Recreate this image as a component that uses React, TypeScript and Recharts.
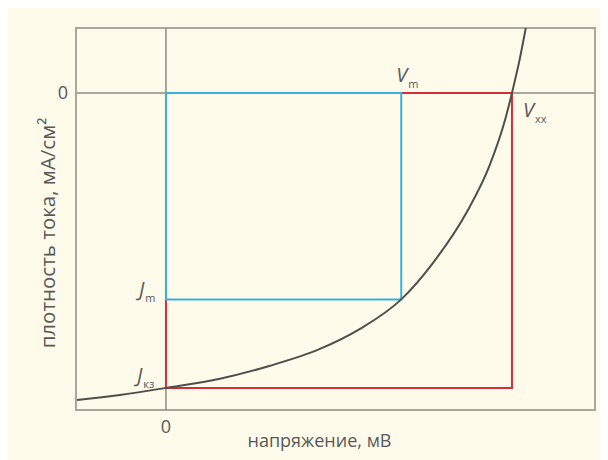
import {
  Label,
  Line,
  LineChart,
  ReferenceArea,
  ReferenceDot,
  ReferenceLine,
  XAxis,
  YAxis,
} from 'recharts'

// I–V curve of the cell (voltage normalised to Vxx = 100, current to Jкз = -100)
const CURVE_V = [-25.7, -13.3, 0, 15.6, 30.1, 44.5, 56.1, 68, 77.2, 87.0, 93.6, 98.0, 100, 102.2, 104.0]
const CURVE_J = [-104.1, -102.4, -100, -96.9, -92.5, -86.8, -80.0, -70, -57.6, -40.3, -24.4, -9.2, 0, 11.2, 22.0]

// characteristic points
const V_M = 68
const J_M = -70
const V_OC = 100
const J_SC = -100

const X_DOMAIN: [number, number] = [-26, 124]
const Y_DOMAIN: [number, number] = [-107.5, 22]
const X_TICKS = [0]
const Y_TICKS = [0]

const curve = CURVE_V.map((v, i) => ({ v, j: CURVE_J[i] }))

// max power rectangle
const powerRect = [
  { v: 0, j: 0 },
  { v: V_M, j: 0 },
  { v: V_M, j: J_M },
  { v: 0, j: J_M },
  { v: 0, j: 0 },
]

// Vxx × Jкз rectangle (the part not covered by the blue one)
const idealRect = [
  { v: V_M, j: 0 },
  { v: V_OC, j: 0 },
  { v: V_OC, j: J_SC },
  { v: 0, j: J_SC },
  { v: 0, j: J_M },
]

const TEXT = '#585858'
const FONT = '"Open Sans", sans-serif'

function Marker({ cx, cy, dx, dy, main, sub }: any) {
  return (
    <text x={cx + dx} y={cy + dy} fill={TEXT} fontFamily={FONT}>
      <tspan fontSize={20} fontStyle="italic">{main}</tspan>
      <tspan fontSize={11} dx={1} dy={6}>{sub}</tspan>
    </text>
  )
}

function XTitle({ viewBox }: any) {
  const x = viewBox.x + viewBox.width / 2 - 16
  const y = viewBox.y + 37
  return (
    <text x={x} y={y} textAnchor="middle" fill={TEXT} fontFamily={FONT} fontSize={18}>
      напряжение, мВ
    </text>
  )
}

function YTitle({ viewBox }: any) {
  const x = viewBox.x + 39
  const y = viewBox.y + viewBox.height / 2 + 14
  return (
    <text
      x={x}
      y={y}
      transform={`rotate(-90 ${x} ${y})`}
      textAnchor="middle"
      dominantBaseline="central"
      fill={TEXT}
      fontFamily={FONT}
      fontSize={20.5}
    >
      плотность тока, мА/см²
    </text>
  )
}

export default function App() {
  return (
    <div style={{ width: 600, height: 452, background: '#fefbea' }}>
      <LineChart width={600} height={452} margin={{ top: 20, right: 13, left: 0, bottom: 0 }}>
        <XAxis
          type="number"
          dataKey="v"
          domain={X_DOMAIN}
          ticks={X_TICKS}
          allowDataOverflow
          axisLine={false}
          tickLine={false}
          tickMargin={4}
          height={50}
          tick={{ fontSize: 18, fill: TEXT, fontFamily: FONT }}
        >
          <Label content={<XTitle />} />
        </XAxis>
        <YAxis
          type="number"
          dataKey="j"
          domain={Y_DOMAIN}
          ticks={Y_TICKS}
          allowDataOverflow
          axisLine={false}
          tickLine={false}
          width={68}
          tick={{ fontSize: 18, fill: TEXT, fontFamily: FONT }}
        >
          <Label content={<YTitle />} />
        </YAxis>
        <ReferenceArea
          x1={X_DOMAIN[0]}
          x2={X_DOMAIN[1]}
          y1={Y_DOMAIN[0]}
          y2={Y_DOMAIN[1]}
          fill="none"
          stroke="#a8a799"
          strokeWidth={2}
          fillOpacity={0}
        />
        <ReferenceLine x={0} stroke="#8c8b82" strokeWidth={1.5} />
        <ReferenceLine y={0} stroke="#a8a799" strokeWidth={2} />
        <Line
          data={idealRect}
          dataKey="j"
          type="linear"
          stroke="#d82c3c"
          strokeWidth={2}
          dot={false}
          isAnimationActive={false}
        />
        <Line
          data={powerRect}
          dataKey="j"
          type="linear"
          stroke="#38afe0"
          strokeWidth={2}
          dot={false}
          isAnimationActive={false}
        />
        <Line
          data={curve}
          dataKey="j"
          type="monotone"
          stroke="#4e4e4c"
          strokeWidth={2}
          dot={false}
          isAnimationActive={false}
        />
        <ReferenceDot x={V_M} y={0} shape={(p: any) => <Marker {...p} dx={-5} dy={-11} main="V" sub="m" />} />
        <ReferenceDot x={V_OC} y={0} shape={(p: any) => <Marker {...p} dx={11} dy={24} main="V" sub="xx" />} />
        <ReferenceDot x={0} y={J_M} shape={(p: any) => <Marker {...p} dx={-27} dy={-3} main="J" sub="m" />} />
        <ReferenceDot x={0} y={J_SC} shape={(p: any) => <Marker {...p} dx={-29} dy={-6} main="J" sub="кз" />} />
      </LineChart>
    </div>
  )
}
